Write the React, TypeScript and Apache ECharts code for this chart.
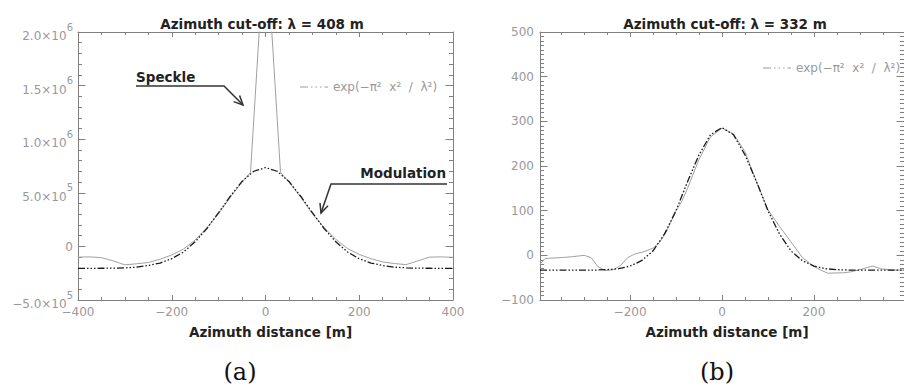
import React, { useEffect, useRef } from "react";
import * as echarts from "echarts";

// ---------- data ----------
const aTitle = "Azimuth cut-off: λ = 408 m";
const bTitle = "Azimuth cut-off: λ = 332 m";
const xName = "Azimuth distance [m]";
const fitName = "exp(−π²  x²  /  λ²)";

const aFitX = [-400, -375, -350, -325, -300, -275, -250, -225, -200, -175, -150, -125, -100, -75, -50, -25, 0, 25, 50, 75, 100, 125, 150, 175, 200, 225, 250, 275, 300, 325, 350, 375, 400];
const aFitY = [-205000, -205000, -204000, -203000, -200000, -194000, -178000, -155000, -115000, -52000, 43000, 167000, 315000, 468000, 606000, 701000, 735000, 701000, 606000, 468000, 315000, 167000, 43000, -52000, -115000, -155000, -178000, -194000, -200000, -203000, -204000, -205000, -205000];

const aDataX = [-400, -375, -350, -325, -300, -275, -250, -225, -200, -175, -150, -125, -100, -75, -50, -32, 0, 32, 50, 75, 100, 125, 150, 175, 200, 225, 250, 275, 300, 325, 350, 375, 400];
const aDataY = [-100000, -98000, -105000, -135000, -172000, -162000, -150000, -120000, -80000, -25000, 60000, 175000, 305000, 460000, 600000, 690000, 2950000, 690000, 600000, 460000, 305000, 175000, 65000, -20000, -75000, -115000, -145000, -160000, -170000, -135000, -100000, -98000, -102000];

const bFitX = [-396, -375, -350, -325, -300, -275, -250, -225, -200, -175, -150, -125, -100, -75, -50, -25, 0, 25, 50, 75, 100, 125, 150, 175, 200, 225, 250, 275, 300, 325, 350, 375, 396];
const bFitY = [-33, -33, -33, -33, -33, -33, -32, -30, -24, -12, 10, 48, 100, 165, 225, 270, 286, 270, 225, 165, 100, 48, 10, -12, -24, -30, -32, -33, -33, -33, -33, -33, -33];

const bDataX = [-396, -385, -350, -325, -300, -285, -270, -255, -235, -220, -205, -190, -170, -150, -135, -120, -100, -87, -75, -50, -25, 0, 25, 50, 75, 100, 125, 150, 175, 200, 215, 230, 265, 280, 300, 328, 345, 372, 396];
const bDataY = [-20, -7, -5, -3, 0, -5, -25, -34, -32, -22, -5, 3, 8, 16, 30, 55, 100, 122, 150, 215, 265, 285, 272, 232, 165, 102, 65, 30, -5, -25, -33, -40, -39, -37, -32, -24, -30, -33, -33];

const aYTickValues = [-500000, 0, 500000, 1000000, 1500000, 2000000];
const aYTickMantissa = ["−5.0", "0", "5.0", "1.0", "1.5", "2.0"];
const aYTickExponent = ["5", "", "5", "6", "6", "6"];

const bXMajor = [-200, 0, 200];
const bXMinor = [-350, -300, -250, -150, -100, -50, 50, 100, 150, 250, 300, 350];

// ---------- styles ----------
const FONT = "DejaVu Sans";
const AXIS = "#808080";
const LABEL = "#999999";
const DARK = "#222222";
const FIT_DASH = [7, 2, 1.5, 2, 1.5, 2, 1.5, 2];
const LEGEND_DASH = [8, 3, 1.5, 3, 1.5, 3, 1.5, 3];

const minus = (v: number) => String(v).replace("-", "−");

function frameX(gridIndex: number, position: string, min: number, max: number, extra: any = {}) {
  return {
    type: "value",
    gridIndex,
    position,
    min,
    max,
    axisLine: { show: true, onZero: false, lineStyle: { color: AXIS, width: 1 } },
    axisTick: { show: true, inside: true, length: 5, lineStyle: { color: AXIS } },
    axisLabel: { show: false },
    splitLine: { show: false },
    ...extra,
  };
}

function frameY(gridIndex: number, position: string, min: number, max: number, extra: any = {}) {
  return {
    type: "value",
    gridIndex,
    position,
    min,
    max,
    axisLine: { show: true, onZero: false, lineStyle: { color: AXIS, width: 1 } },
    axisTick: { show: true, inside: true, length: 7.5, lineStyle: { color: AXIS } },
    axisLabel: { show: false },
    splitLine: { show: false },
    ...extra,
  };
}

const xLabel = {
  show: true,
  color: LABEL,
  fontFamily: FONT,
  fontSize: 12,
  margin: 6,
  showMinLabel: true,
  showMaxLabel: true,
  formatter: (v: number) => minus(v),
};

const xNameOpts = {
  name: xName,
  nameLocation: "middle",
  nameGap: 25,
  nameTextStyle: { color: DARK, fontFamily: FONT, fontWeight: "bold", fontSize: 13.5, padding: [0, 0, 0, 10] },
};

function legendGraphic(x: number, y: number) {
  return [
    { type: "polyline", shape: { points: [[x, y], [x + 28, y]] }, style: { stroke: "#9a9a9a", lineWidth: 1, lineDash: LEGEND_DASH, fill: null } },
    {
      type: "text", x: x + 33, y,
      style: { text: fitName, fill: LABEL, font: `12px "${FONT}"`, textAlign: "left", textVerticalAlign: "middle", align: "left", verticalAlign: "middle" },
    },
  ];
}

export default function App() {
  const ref = useRef<HTMLDivElement>(null);

  useEffect(() => {
    if (!ref.current) return;
    const chart = echarts.init(ref.current, undefined, { renderer: "svg" });

    const option: any = {
      animation: false,
      backgroundColor: "#ffffff",
      title: [
        { text: aTitle, left: 262, top: 17, textAlign: "center", padding: 0, textStyle: { color: DARK, fontFamily: FONT, fontWeight: "bold", fontSize: 13.5 } },
        { text: bTitle, left: 725, top: 17, textAlign: "center", padding: 0, textStyle: { color: DARK, fontFamily: FONT, fontWeight: "bold", fontSize: 13.5 } },
      ],
      grid: [
        { left: 78, top: 32, width: 375, height: 268 },
        { left: 540, top: 32, width: 375, height: 268 },
      ],
      xAxis: [
        frameX(0, "bottom", -400, 400, {
          interval: 200,
          minorTick: { show: true, splitNumber: 4, length: 3, lineStyle: { color: AXIS } },
          axisLabel: xLabel,
          ...xNameOpts,
        }),
        frameX(0, "top", -400, 400, {
          interval: 200,
          minorTick: { show: true, splitNumber: 4, length: 3, lineStyle: { color: AXIS } },
        }),
        frameX(1, "bottom", -396, 396, {
          axisTick: { show: true, inside: true, length: 5, customValues: bXMajor, lineStyle: { color: AXIS } },
          axisLabel: { ...xLabel, customValues: bXMajor },
          ...xNameOpts,
        }),
        frameX(1, "bottom", -396, 396, {
          axisLine: { show: false, onZero: false },
          axisTick: { show: true, inside: true, length: 3, customValues: bXMinor, lineStyle: { color: AXIS } },
        }),
        frameX(1, "top", -396, 396, {
          axisTick: { show: true, inside: true, length: 5, customValues: bXMajor, lineStyle: { color: AXIS } },
        }),
        frameX(1, "top", -396, 396, {
          axisLine: { show: false, onZero: false },
          axisTick: { show: true, inside: true, length: 3, customValues: bXMinor, lineStyle: { color: AXIS } },
        }),
      ],
      yAxis: [
        frameY(0, "left", -500000, 2000000, {
          interval: 500000,
          minorTick: { show: true, splitNumber: 5, length: 4, lineStyle: { color: AXIS } },
          axisLabel: {
            show: true,
            margin: 5,
            showMinLabel: true,
            showMaxLabel: true,
            formatter: (v: number) => {
              const i = aYTickValues.indexOf(Math.round(v));
              if (i < 0) return "";
              if (!aYTickExponent[i]) return `{m|${aYTickMantissa[i]}}`;
              return `{m|${aYTickMantissa[i]}×10}{s|${aYTickExponent[i]}}`;
            },
            rich: {
              m: { color: LABEL, fontFamily: FONT, fontSize: 12, lineHeight: 13, verticalAlign: "bottom" },
              s: { color: LABEL, fontFamily: FONT, fontSize: 10, lineHeight: 20, verticalAlign: "top" },
            },
          },
        }),
        frameY(0, "right", -500000, 2000000, {
          interval: 500000,
          minorTick: { show: true, splitNumber: 5, length: 4, lineStyle: { color: AXIS } },
        }),
        frameY(1, "left", -100, 500, {
          interval: 100,
          minorTick: { show: true, splitNumber: 10, length: 4, lineStyle: { color: AXIS } },
          axisLabel: {
            show: true, color: LABEL, fontFamily: FONT, fontSize: 12, margin: 6,
            showMinLabel: true, showMaxLabel: true,
            formatter: (v: number) => minus(v),
          },
        }),
        frameY(1, "right", -100, 500, {
          interval: 100,
          minorTick: { show: true, splitNumber: 10, length: 4, lineStyle: { color: AXIS } },
        }),
      ],
      series: [
        {
          type: "line", name: "data (a)", xAxisIndex: 0, yAxisIndex: 0, symbol: "none", clip: true,
          lineStyle: { color: "#a0a0a0", width: 1 }, itemStyle: { color: "#a0a0a0" },
          data: aDataX.map((x, i) => [x, aDataY[i]]),
        },
        {
          type: "line", name: fitName, xAxisIndex: 0, yAxisIndex: 0, symbol: "none", clip: true,
          lineStyle: { color: "#1a1a1a", width: 1.3, type: FIT_DASH }, itemStyle: { color: "#1a1a1a" },
          data: aFitX.map((x, i) => [x, aFitY[i]]),
        },
        {
          type: "line", name: "data (b)", xAxisIndex: 2, yAxisIndex: 2, symbol: "none", clip: true,
          lineStyle: { color: "#a0a0a0", width: 1 }, itemStyle: { color: "#a0a0a0" },
          data: bDataX.map((x, i) => [x, bDataY[i]]),
        },
        {
          type: "line", name: fitName, xAxisIndex: 2, yAxisIndex: 2, symbol: "none", clip: true,
          lineStyle: { color: "#1a1a1a", width: 1.3, type: FIT_DASH }, itemStyle: { color: "#1a1a1a" },
          data: bFitX.map((x, i) => [x, bFitY[i]]),
        },
      ],
      graphic: [
        ...legendGraphic(300, 87),
        ...legendGraphic(763, 68),
        {
          type: "text", x: 136, y: 77,
          style: { text: "Speckle", fill: DARK, font: `bold 13.5px "${FONT}"`, textAlign: "left", textVerticalAlign: "middle", align: "left", verticalAlign: "middle" },
        },
        { type: "polyline", shape: { points: [[136, 86], [224, 86], [243, 105]] }, style: { stroke: "#333", lineWidth: 1.5, fill: null } },
        { type: "polyline", shape: { points: [[233.6, 101.6], [243, 105], [239.6, 95.6]] }, style: { stroke: "#333", lineWidth: 1.5, fill: null } },
        {
          type: "text", x: 446, y: 173,
          style: { text: "Modulation", fill: DARK, font: `bold 13.5px "${FONT}"`, textAlign: "right", textVerticalAlign: "middle", align: "right", verticalAlign: "middle" },
        },
        { type: "polyline", shape: { points: [[447, 184], [331, 184], [321, 213]] }, style: { stroke: "#333", lineWidth: 1.5, fill: null } },
        { type: "polyline", shape: { points: [[320, 203], [321, 213], [328, 205.8]] }, style: { stroke: "#333", lineWidth: 1.5, fill: null } },
        {
          type: "text", x: 240, y: 372,
          style: { text: "(a)", fill: "#111", font: `24px "DejaVu Serif"`, textAlign: "center", textVerticalAlign: "middle", align: "center", verticalAlign: "middle" },
        },
        {
          type: "text", x: 717, y: 372,
          style: { text: "(b)", fill: "#111", font: `24px "DejaVu Serif"`, textAlign: "center", textVerticalAlign: "middle", align: "center", verticalAlign: "middle" },
        },
      ],
    };

    chart.setOption(option);
    return () => chart.dispose();
  }, []);

  return (
    <div
      ref={ref}
      style={{ position: "fixed", left: 0, top: 0, width: 904, height: 388, background: "#fff" }}
    />
  );
}
